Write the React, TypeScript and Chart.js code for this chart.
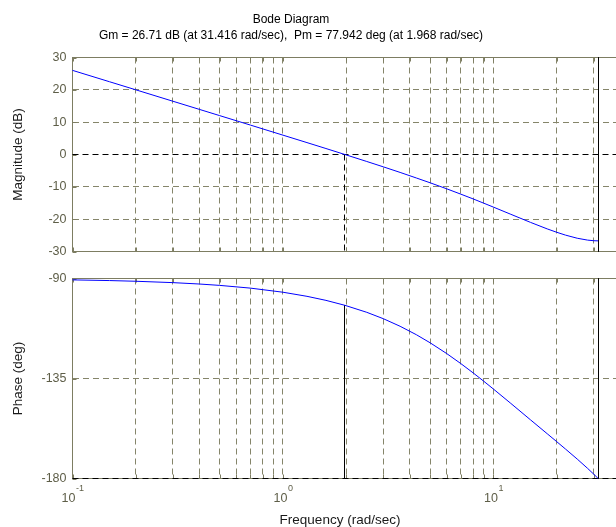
import React, { useEffect, useRef } from 'react';
import { Chart, registerables } from 'chart.js';

Chart.register(...registerables);

// ---- data ----
const FREQ = [0.1, 0.15, 0.2, 0.3, 0.4, 0.5, 0.7, 1, 1.3, 1.6, 1.968, 2.5, 3, 3.6, 4.3, 5, 6, 7, 8, 9, 10, 12, 15, 18, 20, 22, 25, 28, 30, 31.416];
const MAG_DB = [26.02, 22.5, 20.0, 16.47, 13.97, 12.03, 9.1, 5.98, 3.68, 1.85, 0.0, -2.16, -3.83, -5.54, -7.26, -8.75, -10.62, -12.27, -13.73, -15.07, -16.28, -18.41, -21.0, -23.01, -24.07, -24.94, -25.9, -26.48, -26.67, -26.71];
const PHASE_DEG = [-90.62, -90.93, -91.24, -91.86, -92.48, -93.1, -94.33, -96.18, -98.02, -99.84, -102.06, -105.21, -108.11, -111.5, -115.29, -118.93, -123.8, -128.31, -132.46, -136.27, -139.77, -145.96, -153.62, -159.86, -163.47, -166.77, -171.27, -175.45, -178.13, -180.0];

const GM_DB = 26.71;
const GM_FREQ = 31.416;
const PM_DEG = 77.942;
const PM_FREQ = 1.968;

const X_MIN = 0.1;
const X_MAX = 55.4;
const X_GRID = [0.1, 0.2, 0.3, 0.4, 0.5, 0.6, 0.7, 0.8, 0.9, 1, 2, 3, 4, 5, 6, 7, 8, 9, 10, 20, 30, 40, 50];
const X_TICK_VALUES = [0.1, 1, 10];
const X_TICK_EXPONENTS = ['-1', '0', '1'];
const MAG_TICKS = [-30, -20, -10, 0, 10, 20, 30];
const PHASE_TICKS = [-180, -135, -90];

const TITLE = 'Bode Diagram';
const SUBTITLE = `Gm = ${GM_DB} dB (at ${GM_FREQ} rad/sec),  Pm = ${PM_DEG} deg (at ${PM_FREQ} rad/sec)`;
const MAG_LABEL = 'Magnitude (dB)';
const PHASE_LABEL = 'Phase (deg)';
const X_LABEL = 'Frequency (rad/sec)';

// ---- styles ----
const FONT = '"Liberation Sans", Arial, sans-serif';
const GRID = '#85856a';
const FRAME = '#7d7d62';
const TICK_TEXT = '#5e5e48';
const LABEL_TEXT = '#1a1a1a';
const CURVE = '#0000ff';
const DASH = [6, 4];
const W = 660;

const framePlugin = {
  id: 'frame',
  beforeDatasetsDraw(chart: any) {
    const { ctx, chartArea: a, scales } = chart;
    ctx.save();
    ctx.strokeStyle = FRAME;
    ctx.lineWidth = 1;
    ctx.setLineDash([]);
    ctx.strokeRect(a.left, a.top, a.right - a.left, a.bottom - a.top);
    ctx.beginPath();
    X_GRID.forEach((v) => {
      const px = Math.round(scales.x.getPixelForValue(v)) + 0.5;
      ctx.moveTo(px, a.bottom);
      ctx.lineTo(px, a.bottom - 4);
      ctx.moveTo(px, a.top);
      ctx.lineTo(px, a.top + 4);
    });
    scales.y.ticks.forEach((t: any) => {
      const py = Math.round(scales.y.getPixelForValue(t.value)) + 0.5;
      ctx.moveTo(a.left, py);
      ctx.lineTo(a.left + 4, py);
    });
    ctx.stroke();
    ctx.restore();
  },
};

// keeps the vertical marker lines crisp (1px) by snapping them to the pixel grid
const snapPlugin = {
  id: 'snap',
  beforeDatasetDraw(chart: any, args: any) {
    const ds = chart.data.datasets[args.index];
    if (ds.snapX === undefined) return;
    const px = chart.scales.x.getPixelForValue(ds.snapX);
    const target = Math.floor(px) + 0.5;
    chart.ctx.save();
    chart.ctx.translate(target - px, 0);
  },
  afterDatasetDraw(chart: any, args: any) {
    const ds = chart.data.datasets[args.index];
    if (ds.snapX === undefined) return;
    chart.ctx.restore();
  },
};

const titlePlugin = {
  id: 'titles',
  afterDraw(chart: any) {
    const { ctx } = chart;
    ctx.save();
    ctx.fillStyle = '#000';
    ctx.textAlign = 'center';
    ctx.textBaseline = 'middle';
    ctx.font = `12px ${FONT}`;
    ctx.fillText(TITLE, 291, 20);
    ctx.fillText(SUBTITLE, 291, 35.5);
    ctx.restore();
  },
};

const xLabelsPlugin = {
  id: 'xlabels',
  afterDraw(chart: any) {
    const { ctx, scales } = chart;
    ctx.save();
    ctx.fillStyle = TICK_TEXT;
    ctx.textBaseline = 'alphabetic';
    ctx.textAlign = 'left';
    X_TICK_VALUES.forEach((v, i) => {
      const px = scales.x.getPixelForValue(v);
      ctx.font = `12.5px ${FONT}`;
      const wBase = ctx.measureText('10').width;
      ctx.font = `9px ${FONT}`;
      const wExp = ctx.measureText(X_TICK_EXPONENTS[i]).width;
      const start = px - (wBase + wExp) / 2;
      ctx.font = `12.5px ${FONT}`;
      ctx.fillText('10', start, 236.5);
      ctx.font = `9px ${FONT}`;
      ctx.fillText(X_TICK_EXPONENTS[i], start + wBase + 0.5, 225.5);
    });
    ctx.fillStyle = LABEL_TEXT;
    ctx.textAlign = 'center';
    ctx.textBaseline = 'middle';
    ctx.font = `13.5px ${FONT}`;
    ctx.fillText(X_LABEL, 340, 255);
    ctx.restore();
  },
};

function lineSet(points: { x: number; y: number }[], color: string, dash: number[] = [], snapX?: number) {
  const ds: any = {
    data: points,
    borderColor: color,
    borderWidth: 1,
    borderDash: dash,
    pointRadius: 0,
    tension: 0,
    fill: false,
    clip: false,
  };
  if (snapX !== undefined) ds.snapX = snapX;
  return ds;
}

function makeOptions(
  yMin: number,
  yMax: number,
  yTicks: number[],
  yLabel: string,
  darkTick: number,
  padTop: number,
  padBottom: number
) {
  return {
    animation: false as const,
    responsive: false,
    maintainAspectRatio: false,
    events: [] as any[],
    layout: { padding: { left: 0, right: 10, top: padTop, bottom: padBottom } },
    plugins: { legend: { display: false }, tooltip: { enabled: false }, title: { display: false } },
    scales: {
      x: {
        type: 'logarithmic' as const,
        min: X_MIN,
        max: X_MAX,
        afterBuildTicks: (s: any) => {
          s.ticks = X_GRID.map((v) => ({ value: v }));
        },
        afterFit: (s: any) => {
          s.height = 0;
        },
        ticks: { display: false },
        grid: { color: GRID, lineWidth: 1, drawTicks: false },
        border: { display: false, dash: DASH },
      },
      y: {
        type: 'linear' as const,
        min: yMin,
        max: yMax,
        afterBuildTicks: (s: any) => {
          s.ticks = yTicks.map((v) => ({ value: v }));
        },
        afterFit: (s: any) => {
          s.width = 72.5;
        },
        ticks: {
          color: TICK_TEXT,
          padding: 6,
          font: { family: FONT, size: 12.5 },
          callback: (v: any) => String(v),
        },
        grid: {
          color: (c: any) => (c.tick && c.tick.value === darkTick ? 'rgba(0,0,0,0)' : GRID),
          lineWidth: 1,
          drawTicks: false,
        },
        border: { display: false, dash: DASH },
        title: {
          display: true,
          text: yLabel,
          color: LABEL_TEXT,
          font: { family: FONT, size: 13.5 },
          padding: { top: 10, bottom: 0 },
        },
      },
    },
  };
}

export default function App() {
  const magRef = useRef<HTMLCanvasElement>(null);
  const phRef = useRef<HTMLCanvasElement>(null);

  useEffect(() => {
    const magCurve = FREQ.map((f, i) => ({ x: f, y: MAG_DB[i] }));
    const phCurve = FREQ.map((f, i) => ({ x: f, y: PHASE_DEG[i] }));

    const magChart = new Chart(magRef.current as HTMLCanvasElement, {
      type: 'line',
      data: {
        datasets: [
          lineSet(magCurve, CURVE),
          lineSet([{ x: X_MIN, y: 0 }, { x: X_MAX, y: 0 }], '#000', DASH),
          lineSet([{ x: PM_FREQ, y: 0 }, { x: PM_FREQ, y: MAG_TICKS[0] }], '#000', DASH, PM_FREQ),
          lineSet(
            [{ x: GM_FREQ, y: MAG_TICKS[MAG_TICKS.length - 1] }, { x: GM_FREQ, y: MAG_TICKS[0] }],
            '#000',
            [],
            GM_FREQ
          ),
        ],
      },
      options: makeOptions(-30, 30, MAG_TICKS, MAG_LABEL, 0, 57.5, 7.5) as any,
      plugins: [framePlugin, snapPlugin, titlePlugin],
    });

    const phChart = new Chart(phRef.current as HTMLCanvasElement, {
      type: 'line',
      data: {
        datasets: [
          lineSet(phCurve, CURVE),
          lineSet([{ x: X_MIN, y: -180 }, { x: X_MAX, y: -180 }], '#000', DASH),
          lineSet([{ x: PM_FREQ, y: -180 + PM_DEG }, { x: PM_FREQ, y: -180 }], '#000', [], PM_FREQ),
          lineSet([{ x: GM_FREQ, y: -90 }, { x: GM_FREQ, y: -180 }], '#000', [], GM_FREQ),
        ],
      },
      options: makeOptions(-180, -90, PHASE_TICKS, PHASE_LABEL, -180, 13.5, 48.5) as any,
      plugins: [framePlugin, snapPlugin, xLabelsPlugin],
    });

    return () => {
      magChart.destroy();
      phChart.destroy();
    };
  }, []);

  return (
    <div
      style={{
        position: 'absolute',
        left: 0,
        top: 0,
        width: 616,
        height: 527,
        overflow: 'hidden',
        background: '#fff',
      }}
    >
      <canvas
        ref={magRef}
        width={W}
        height={265}
        style={{ position: 'absolute', left: 0, top: 0, width: W, height: 265 }}
      />
      <canvas
        ref={phRef}
        width={W}
        height={262}
        style={{ position: 'absolute', left: 0, top: 265, width: W, height: 262 }}
      />
    </div>
  );
}
